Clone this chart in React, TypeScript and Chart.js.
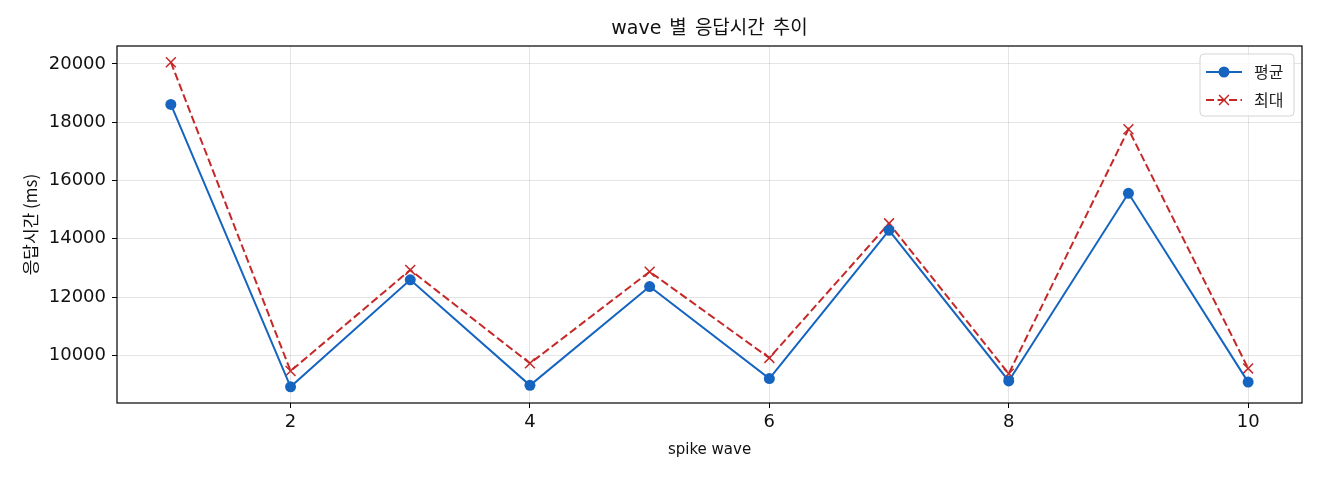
import React, { useEffect, useRef } from "react";
import { Chart, registerables } from "chart.js";

Chart.register(...registerables);

const waves = [1, 2, 3, 4, 5, 6, 7, 8, 9, 10];
const avgTimes = [18610, 8920, 12590, 8970, 12360, 9200, 14290, 9120, 15560, 9080];
const maxTimes = [20060, 9460, 12930, 9725, 12870, 9910, 14530, 9370, 17760, 9550];
const xTicks = [2, 4, 6, 8, 10];
const yTicks = [10000, 12000, 14000, 16000, 18000, 20000];
const seriesNames = ["평균", "최대"];
const chartTitle = "wave 별 응답시간 추이";

const BLUE = "#1565c0";
const RED = "#c62828";
const FONT = '"DejaVu Sans", "Noto Sans CJK KR", sans-serif';
const KFONT = '"Noto Sans CJK KR", "DejaVu Sans", sans-serif';

// 5% margins like matplotlib
const margin = (lo: number, hi: number) => (hi - lo) * 0.05;
const xLo = Math.min(...waves);
const xHi = Math.max(...waves);
const yLo = Math.min(...avgTimes, ...maxTimes);
const yHi = Math.max(...avgTimes, ...maxTimes);

// frame around the plot + title centred over the axes
const frame = {
  id: "frame",
  afterDatasetsDraw(chart: any) {
    const { ctx, chartArea } = chart;
    ctx.save();
    ctx.strokeStyle = "#000";
    ctx.lineWidth = 1.2;
    ctx.strokeRect(chartArea.left, chartArea.top, chartArea.right - chartArea.left, chartArea.bottom - chartArea.top);
    ctx.fillStyle = "#111";
    ctx.font = `19px ${FONT}`;
    ctx.textAlign = "center";
    ctx.textBaseline = "middle";
    (ctx as any).wordSpacing = "2px";
    ctx.fillText(chartTitle, (chartArea.left + chartArea.right) / 2, chartArea.top - 17);
    ctx.restore();
  },
};

const insideLegend = {
  id: "insideLegend",
  afterDraw(chart: any) {
    const { ctx, chartArea } = chart;
    const w = 94;
    const h = 62;
    const x0 = chartArea.right - 8 - w;
    const y0 = chartArea.top + 8;
    ctx.save();
    ctx.beginPath();
    ctx.roundRect(x0, y0, w, h, 4);
    ctx.fillStyle = "rgba(255,255,255,0.8)";
    ctx.fill();
    ctx.strokeStyle = "#d4d4d4";
    ctx.lineWidth = 1;
    ctx.stroke();
    chart.data.datasets.forEach((ds: any, i: number) => {
      const cy = y0 + 18 + i * 28;
      const lx = x0 + 6;
      ctx.strokeStyle = ds.borderColor;
      ctx.lineWidth = ds.borderWidth;
      ctx.setLineDash(ds.borderDash || []);
      ctx.beginPath();
      ctx.moveTo(lx, cy);
      ctx.lineTo(lx + 36, cy);
      ctx.stroke();
      ctx.setLineDash([]);
      const mx = lx + 18;
      if (ds.pointStyle === "circle") {
        ctx.fillStyle = ds.pointBackgroundColor;
        ctx.beginPath();
        ctx.arc(mx, cy, ds.pointRadius, 0, Math.PI * 2);
        ctx.fill();
      } else {
        const r = ds.pointRadius * Math.SQRT1_2;
        ctx.strokeStyle = ds.pointBorderColor;
        ctx.lineWidth = ds.pointBorderWidth;
        ctx.beginPath();
        ctx.moveTo(mx - r, cy - r);
        ctx.lineTo(mx + r, cy + r);
        ctx.moveTo(mx - r, cy + r);
        ctx.lineTo(mx + r, cy - r);
        ctx.stroke();
      }
      ctx.fillStyle = "#222";
      ctx.font = `16px ${KFONT}`;
      ctx.textBaseline = "middle";
      ctx.textAlign = "left";
      ctx.fillText(ds.label, x0 + 54, cy);
    });
    ctx.restore();
  },
};

const App: React.FC = () => {
  const chartRef = useRef<HTMLCanvasElement>(null);
  const chartInstance = useRef<Chart | null>(null);

  useEffect(() => {
    if (!chartRef.current) return;
    if (chartInstance.current) chartInstance.current.destroy();

    chartInstance.current = new Chart(chartRef.current, {
      type: "line",
      data: {
        datasets: [
          {
            label: seriesNames[0],
            data: waves.map((w, i) => ({ x: w, y: avgTimes[i] })),
            borderColor: BLUE,
            backgroundColor: BLUE,
            borderWidth: 2,
            pointStyle: "circle",
            pointRadius: 5.5,
            pointBackgroundColor: BLUE,
            pointBorderColor: BLUE,
            pointBorderWidth: 0,
            tension: 0,
          },
          {
            label: seriesNames[1],
            data: waves.map((w, i) => ({ x: w, y: maxTimes[i] })),
            borderColor: RED,
            backgroundColor: RED,
            borderWidth: 2,
            borderDash: [8, 3.5],
            pointStyle: "crossRot",
            pointRadius: 7,
            pointBackgroundColor: RED,
            pointBorderColor: RED,
            pointBorderWidth: 1.5,
            tension: 0,
          },
        ] as any,
      },
      plugins: [frame, insideLegend],
      options: {
        animation: false,
        responsive: true,
        maintainAspectRatio: false,
        layout: { padding: { top: 46, left: 0, right: 18, bottom: 0 } },
        plugins: {
          legend: { display: false },
          tooltip: { enabled: false },
          title: { display: false },
        },
        scales: {
          x: {
            type: "linear",
            min: xLo - margin(xLo, xHi),
            max: xHi + margin(xLo, xHi),
            afterBuildTicks: (axis: any) => {
              axis.ticks = xTicks.map((v) => ({ value: v }));
            },
            afterFit: (scale: any) => {
              scale.height = 77;
            },
            border: { display: false },
            grid: { color: "rgba(0,0,0,0.1)", lineWidth: 1, tickLength: 5, tickColor: "#000", tickWidth: 1 },
            ticks: { color: "#111", font: { family: FONT, size: 18 }, padding: 4, maxRotation: 0 },
            title: {
              display: true,
              text: "spike wave",
              color: "#111",
              font: { family: FONT, size: 15 },
              padding: { top: 0, bottom: 21 },
            },
          },
          y: {
            type: "linear",
            min: yLo - margin(yLo, yHi),
            max: yHi + margin(yLo, yHi),
            afterBuildTicks: (axis: any) => {
              axis.ticks = yTicks.map((v) => ({ value: v }));
            },
            afterFit: (scale: any) => {
              scale.width = 117;
            },
            border: { display: false },
            grid: { color: "rgba(0,0,0,0.1)", lineWidth: 1, tickLength: 5, tickColor: "#000", tickWidth: 1 },
            ticks: {
              color: "#111",
              font: { family: FONT, size: 18 },
              padding: 6,
              callback: (v: any) => String(v),
            },
            title: {
              display: true,
              text: "응답시간 (ms)",
              color: "#111",
              font: { family: KFONT, size: 17 },
              padding: { top: 20.5, bottom: 0 },
            },
          },
        },
      } as any,
    });

    return () => {
      if (chartInstance.current) {
        chartInstance.current.destroy();
        chartInstance.current = null;
      }
    };
  }, []);

  return (
    <div style={{ position: "absolute", left: 0, top: 0, width: 1320, height: 480, background: "#fff" }}>
      <canvas ref={chartRef} />
    </div>
  );
};

export default App;
